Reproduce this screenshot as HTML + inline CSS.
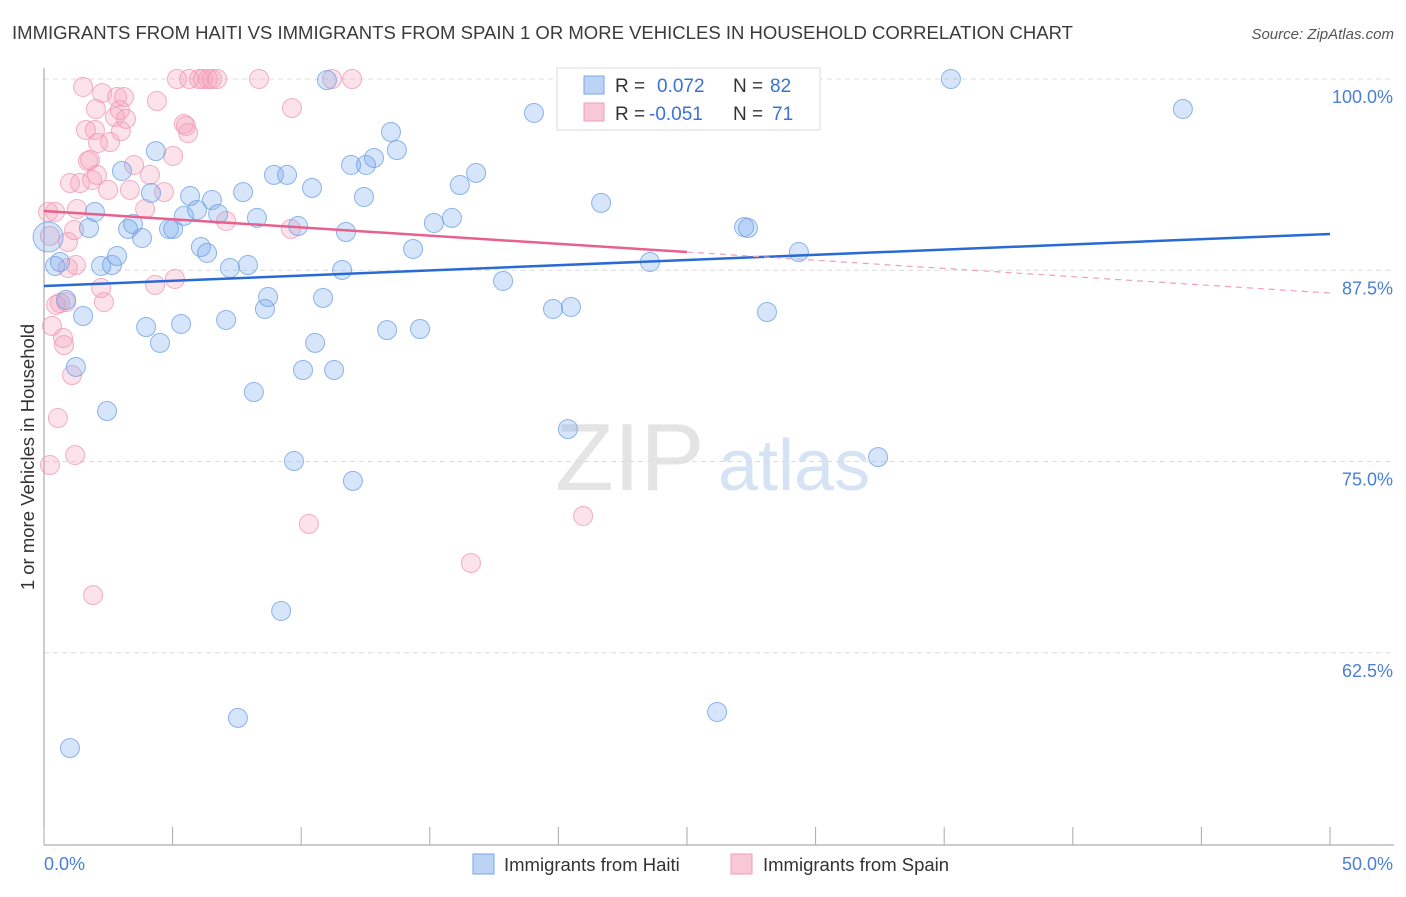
<!DOCTYPE html>
<html><head><meta charset="utf-8"><style>
body{margin:0;background:#fff;font-family:"Liberation Sans",sans-serif}
svg text{font-family:"Liberation Sans",sans-serif}
</style></head><body>
<svg id="chart" width="1406" height="892" xmlns="http://www.w3.org/2000/svg">
<text x="12" y="39" font-size="18.6" fill="#3a3a3a" textLength="1061" lengthAdjust="spacingAndGlyphs">IMMIGRANTS FROM HAITI VS IMMIGRANTS FROM SPAIN 1 OR MORE VEHICLES IN HOUSEHOLD CORRELATION CHART</text>
<text x="1394" y="39" font-size="15" fill="#555" font-style="italic" text-anchor="end">Source: ZipAtlas.com</text>
<g>
<text x="555" y="490" font-size="96" fill="#e4e4e4" font-family="Liberation Serif,serif">ZIP</text>
<text x="718" y="490" font-size="72" fill="#d6e3f5">atlas</text>
</g>
<g id="grid"></g>
<g id="axes"></g>
<g id="pts"></g>
<g id="trend"></g>
<text transform="translate(34,457) rotate(-90)" font-size="18.5" fill="#333" text-anchor="middle">1 or more Vehicles in Household</text>
<text x="44" y="870" font-size="18" fill="#4a7fd6">0.0%</text>
<text x="1393" y="870" font-size="18" fill="#4a7fd6" text-anchor="end">50.0%</text>
<g>
<rect x="557" y="68" width="263" height="62" fill="#fff" stroke="#ddd"/>
<rect x="584" y="76" width="20" height="18" fill="#bcd3f5" stroke="#7aa4e6"/>
<rect x="584" y="103" width="20" height="18" fill="#f9c8d6" stroke="#ef9db5"/>
<text x="615" y="92" font-size="19" fill="#333">R = </text><text x="657" y="92" font-size="19" fill="#3a72d6">0.072</text>
<text x="733" y="92" font-size="19" fill="#333">N = </text><text x="770" y="92" font-size="19" fill="#3a72d6">82</text>
<text x="615" y="120" font-size="19" fill="#333">R = </text><text x="649" y="120" font-size="19" fill="#3a72d6">-0.051</text>
<text x="733" y="120" font-size="19" fill="#333">N = </text><text x="772" y="120" font-size="19" fill="#3a72d6">71</text>
</g>
<g>
<rect x="473" y="854" width="21" height="20" fill="#bcd3f5" stroke="#7aa4e6"/>
<text x="504" y="871" font-size="18.5" fill="#333">Immigrants from Haiti</text>
<rect x="731" y="854" width="21" height="20" fill="#f9c8d6" stroke="#ef9db5"/>
<text x="763" y="871" font-size="18.5" fill="#333">Immigrants from Spain</text>
</g>
</svg>
<script>
const yTicks=[100,87.5,75,62.5];
const yTickLabels=["100.0%","87.5%","75.0%","62.5%"];
const xTicks=[0,5,10,15,20,25,30,35,40,45,50];
const haitiX=[0.16,0.43,0.62,0.86,1.01,1.24,1.52,1.75,1.98,2.22,2.45,2.64,2.84,3.03,3.27,3.46,3.81,3.97,4.16,4.35,4.51,4.86,5.02,5.33,5.44,5.68,5.95,6.10,6.34,6.53,6.77,7.08,7.23,7.54,7.74,7.93,8.16,8.28,8.59,8.71,8.94,9.22,9.45,9.72,9.88,10.07,10.42,10.54,10.85,11.00,11.28,11.59,11.74,11.94,12.01,12.44,12.52,12.83,13.34,13.49,13.72,14.35,14.62,15.16,15.86,16.17,16.80,17.85,19.05,19.79,20.37,20.49,21.66,23.56,26.17,27.22,27.37,28.11,29.35,32.43,35.26,44.28];
const haitiY=[89.67,87.78,88.04,85.56,56.27,81.18,84.51,90.26,91.31,87.78,78.30,87.84,88.43,93.99,90.20,90.52,89.61,83.79,92.55,95.29,82.75,90.20,90.20,83.99,91.05,92.35,91.44,89.02,88.63,92.09,91.18,84.25,87.65,58.24,92.61,87.84,79.54,90.92,84.97,85.75,93.73,65.23,93.73,75.03,90.39,80.98,92.88,82.75,85.69,99.93,80.98,87.52,90.0,94.38,73.73,92.29,94.38,94.84,83.59,96.54,95.36,88.89,83.66,90.59,90.92,93.07,93.86,86.80,97.78,84.97,77.12,85.10,91.90,88.04,58.63,90.33,90.26,84.77,88.69,75.29,100,98.04];
const spainX=[0.16,0.23,0.31,0.43,0.47,0.54,0.62,0.74,0.78,0.86,0.93,0.93,1.01,1.09,1.17,1.21,1.24,1.28,1.40,1.52,1.63,1.71,1.79,1.87,1.91,1.98,2.02,2.06,2.10,2.22,2.26,2.33,2.49,2.57,2.76,2.84,2.95,2.99,3.11,3.19,3.34,3.50,3.93,4.12,4.32,4.39,4.67,5.02,5.09,5.17,5.44,5.52,5.60,5.64,6.03,6.18,6.38,6.53,6.73,7.08,8.36,9.64,9.60,10.30,11.20,11.98,16.60,20.96,0.23];
const spainY=[91.31,74.77,83.86,91.31,85.23,77.84,85.36,83.07,82.61,85.42,87.65,89.35,93.20,80.65,90.13,75.42,87.84,91.50,93.20,99.48,96.67,94.64,94.71,93.40,66.27,96.67,98.04,93.73,95.82,86.34,99.08,85.42,92.75,95.88,97.52,98.82,97.97,96.60,98.82,97.39,92.75,94.38,91.50,93.73,86.54,98.56,92.61,94.97,86.93,100,97.06,96.93,96.47,100,100,100,100,100,100,90.72,100,98.10,90.20,70.92,100,100,68.37,71.44,89.74];
const haitiTrend=[86.47,89.87];
const spainTrend=[91.37,86.01];
const spainSolidEnd=25;
const NS="http://www.w3.org/2000/svg";
const X=v=>44+v*25.72, Y=v=>79+(100-v)*15.3;
function mk(t,a,p){const e=document.createElementNS(NS,t);for(const k in a)e.setAttribute(k,a[k]);p.appendChild(e);return e;}
const grid=document.getElementById('grid'),axes=document.getElementById('axes'),pts=document.getElementById('pts'),tr=document.getElementById('trend');
yTicks.forEach((t,i)=>{
 const l=mk('line',{x1:44,x2:1394,y1:Y(t),y2:Y(t),stroke:'#dcdcdc','stroke-dasharray':'5,4'},grid);
 
 
 const tx=mk('text',{x:1393,y:Y(t)+24,'font-size':18,fill:'#4a7fd6','text-anchor':'end'},grid);
 tx.textContent=yTickLabels[i];
 
 
});
mk('line',{x1:44,x2:44,y1:68,y2:845,stroke:'#999'},axes);
mk('line',{x1:44,x2:1394,y1:845,y2:845,stroke:'#999'},axes);
xTicks.forEach(t=>{const l=mk('line',{x1:X(t),x2:X(t),y1:827,y2:845,stroke:'#aaa'},axes);
 
 });
function dots(xs,ys,fill,stroke,name,big){xs.forEach((x,i)=>{
 const r=(big&&i===0)?15:9.5;
 const c=mk('circle',{cx:X(x),cy:Y(ys[i]),r:r,fill:fill,stroke:stroke,'stroke-width':1,'stroke-opacity':0.75},pts);
 
 });}
dots(spainX,spainY,'rgba(244,160,186,0.3)','#f096b2','spain-point',false);
dots(haitiX,haitiY,'rgba(120,168,238,0.3)','#6b9de4','haiti-point',true);
let l1=mk('line',{x1:X(0),y1:Y(haitiTrend[0]),x2:X(50),y2:Y(haitiTrend[1]),stroke:'#2a6ad4','stroke-width':2.5},tr);


const sMid=spainTrend[0]+(spainTrend[1]-spainTrend[0])*spainSolidEnd/50;
let l2=mk('line',{x1:X(0),y1:Y(spainTrend[0]),x2:X(spainSolidEnd),y2:Y(sMid),stroke:'#e8608c','stroke-width':2.5},tr);


let l3=mk('line',{x1:X(spainSolidEnd),y1:Y(sMid),x2:X(50),y2:Y(spainTrend[1]),stroke:'#eea0b8','stroke-width':1.2,'stroke-dasharray':'6,5'},tr);


</script>
</body></html>
